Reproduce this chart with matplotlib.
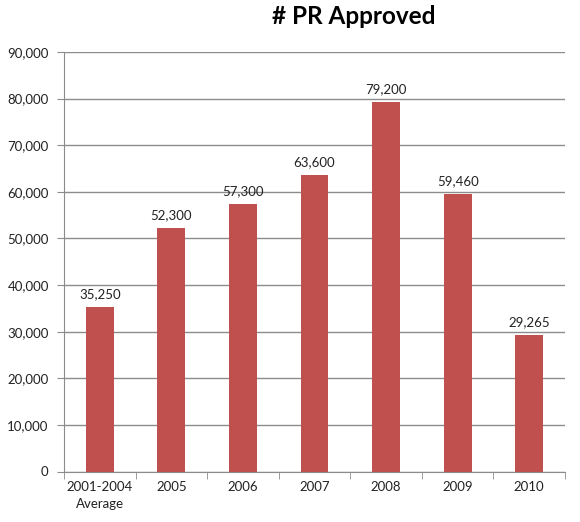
import matplotlib
matplotlib.use("Agg")
import matplotlib.pyplot as plt
from matplotlib.ticker import FuncFormatter, MultipleLocator, FixedLocator
import numpy as np

# Chart data
categories = ["2001-2004\nAverage", "2005", "2006", "2007", "2008", "2009", "2010"]
approved = [35250, 52300, 57300, 63600, 79200, 59460, 29265]
value_labels = ["35,250", "52,300", "57,300", "63,600", "79,200", "59,460", "29,265"]

plt.rcParams["font.family"] = ["Lato", "DejaVu Sans"]

fig = plt.figure(figsize=(5.8, 5.22), dpi=100)
ax = fig.add_axes([64 / 580, 1 - 471.5 / 522, (565 - 64) / 580, (471.5 - 52) / 522])

x = np.arange(len(categories))
ax.bar(x, approved, width=0.39, color="#C0504D", zorder=3)

for xi, val, lab in zip(x, approved, value_labels):
    ax.text(xi, val + 1500, lab, ha="center", va="bottom", fontsize=9.5, color="#222222")

ax.set_xlim(-0.5, len(categories) - 0.5)
ax.set_ylim(0, 90000)
ax.yaxis.set_major_locator(MultipleLocator(10000))
ax.yaxis.set_major_formatter(FuncFormatter(lambda v, p: f"{int(v):,}"))
ax.grid(axis="y", color="#8c8c8c", linewidth=1, zorder=0)

ax.set_xticks(x)
ax.set_xticklabels(categories, fontsize=9.5, color="#222222", linespacing=1.5)
ax.xaxis.set_minor_locator(FixedLocator(np.arange(-0.5, len(categories), 1.0)))
ax.tick_params(axis="x", which="major", length=0, pad=7)
ax.tick_params(axis="x", which="minor", length=5, color="#8c8c8c", direction="out")
ax.tick_params(axis="y", length=5, color="#8c8c8c", labelsize=9.5, labelcolor="#222222", pad=6)

for side in ["top", "right"]:
    ax.spines[side].set_visible(False)
ax.spines["left"].set_color("#8c8c8c")
ax.spines["bottom"].set_color("#8c8c8c")

fig.text(354 / 580, 1 - 17 / 522, "# PR Approved", ha="center", va="center",
         fontsize=17.5, fontweight="bold", color="#000000")

fig.savefig("out.png", dpi=100)
